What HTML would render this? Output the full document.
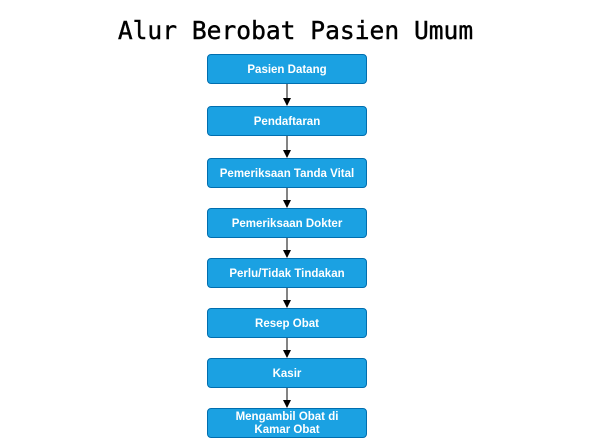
<!DOCTYPE html>
<html><head><style>
body{margin:0;width:591px;height:439px;background:#fff;position:relative;overflow:hidden}
.t{position:absolute;left:0;width:591px;top:15px;text-align:center;font-family:"DejaVu Sans Mono","Liberation Mono",monospace;font-size:24.6px;line-height:32px;color:#000;-webkit-text-stroke:0.4px #000}
.b{position:absolute;left:207px;width:158px;height:28px;background:#1ba1e2;border:1px solid #006eaf;border-radius:4px;color:#fff;font-family:"Liberation Sans",sans-serif;font-weight:bold;font-size:11.5px;display:flex;align-items:center;justify-content:center;text-align:center;line-height:13px;padding-top:2px;box-sizing:content-box;height:26px}
svg{position:absolute;left:0;top:0}
</style></head><body>
<div class="t">Alur Berobat Pasien Umum</div>
<svg width="591" height="439">
<defs><marker id="a" markerWidth="8" markerHeight="8" refX="7" refY="4" orient="auto" markerUnits="userSpaceOnUse"><path d="M0,0 L8,4 L0,8 Z" fill="#000"/></marker></defs>
<g stroke="#333" stroke-width="1.2" marker-end="url(#a)">
<line x1="287" y1="84" x2="287" y2="105"/>
<line x1="287" y1="136" x2="287" y2="157"/>
<line x1="287" y1="188" x2="287" y2="207"/>
<line x1="287" y1="238" x2="287" y2="257"/>
<line x1="287" y1="288" x2="287" y2="307"/>
<line x1="287" y1="338" x2="287" y2="357"/>
<line x1="287" y1="388" x2="287" y2="407"/>
</g></svg>
<div class="b" style="top:54px">Pasien Datang</div>
<div class="b" style="top:106px">Pendaftaran</div>
<div class="b" style="top:158px">Pemeriksaan Tanda Vital</div>
<div class="b" style="top:208px">Pemeriksaan Dokter</div>
<div class="b" style="top:258px">Perlu/Tidak Tindakan</div>
<div class="b" style="top:308px">Resep Obat</div>
<div class="b" style="top:358px">Kasir</div>
<div class="b" style="top:408px">Mengambil Obat di<br>Kamar Obat</div>
</body></html>
